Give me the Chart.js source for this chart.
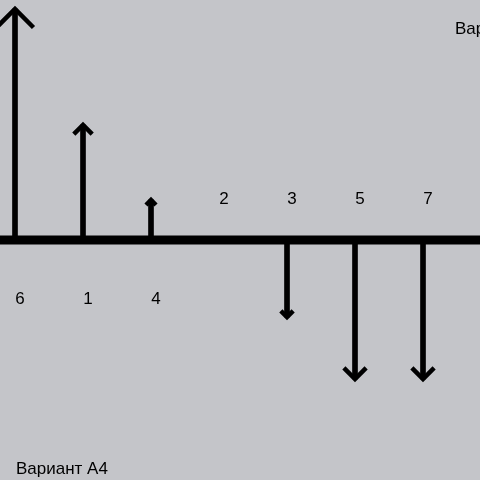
<html>
<head>
<meta charset="utf-8" />
<title>Вариант А4</title>
<style>
  body { margin: 0; background: #c4c5c9; }
  canvas { display: block; }
</style>
</head>
<body>
<canvas id="ex_chart" width="480" height="480"></canvas>

<script src="https://cdn.jsdelivr.net/npm/chart.js"></script>
<script>

// categories and arrow values (up = positive, down = negative)
listLabel = ['6', '1', '4', '2', '3', '5', '7'];
listValue = [4.62, 2.3, 0.8, 0, -1.54, -2.78, -2.78];
captionText = 'Вариант А4';

var points = listLabel.map(function (name, i) {
  return { x: i, y: listValue[i] };
});

// arrows heads, axis line, labels and caption
var arrowPlugin = {
  id: 'arrows',
  beforeDraw: function (chart) {
    var c = chart.ctx;
    c.save();
    c.fillStyle = '#c4c5c9';
    c.fillRect(0, 0, chart.width, chart.height);
    c.restore();
  },
  afterDatasetsDraw: function (chart) {
    var c = chart.ctx;
    var xs = chart.scales.x, ys = chart.scales.y;
    var y0 = ys.getPixelForValue(0);

    c.save();
    // main axis line
    c.fillStyle = '#000';
    c.fillRect(0, y0 - 4.5, chart.width, 9);

    c.strokeStyle = '#000';
    c.lineWidth = 4.5;
    c.lineCap = 'butt';
    c.lineJoin = 'miter';
    c.font = '17px "Liberation Sans", Arial, sans-serif';
    c.textAlign = 'center';
    c.textBaseline = 'middle';

    for (var i = 0; i < listValue.length; i++) {
      var px = xs.getPixelForValue(i);
      var py = ys.getPixelForValue(listValue[i]);
      var len = py - y0;
      if (Math.abs(len) > 0.5) {
        var dir = len > 0 ? 1 : -1;
        var h = Math.max(5, Math.abs(len) * 0.08);
        c.beginPath();
        c.moveTo(px - h, py - dir * h);
        c.lineTo(px, py);
        c.lineTo(px + h, py - dir * h);
        c.stroke();
      }
      c.fillStyle = '#000';
      var ly = listValue[i] > 0 ? y0 + 59 : y0 - 41;
      c.fillText(listLabel[i], px + 5, ly);
    }

    c.textAlign = 'left';
    c.textBaseline = 'alphabetic';
    c.fillText(captionText, 16, 474);
    c.fillText(captionText, 455, 34);
    c.restore();
  }
};

var ctx = document.getElementById('ex_chart');
var ex_chart = new Chart(ctx, {
  type: 'bar',
  data: {
    datasets: [{
      data: points,
      backgroundColor: '#000',
      barThickness: 5,
      borderWidth: 0
    }]
  },
  options: {
    responsive: false,
    animation: false,
    devicePixelRatio: 1,
    layout: { padding: 0 },
    plugins: {
      legend: { display: false },
      tooltip: { enabled: false }
    },
    scales: {
      x: { type: 'linear', display: false, offset: false, min: -0.2206, max: 6.8382 },
      y: { display: false, min: -4.8, max: 4.8 }
    }
  },
  plugins: [arrowPlugin]
});

</script>
</body>
</html>
